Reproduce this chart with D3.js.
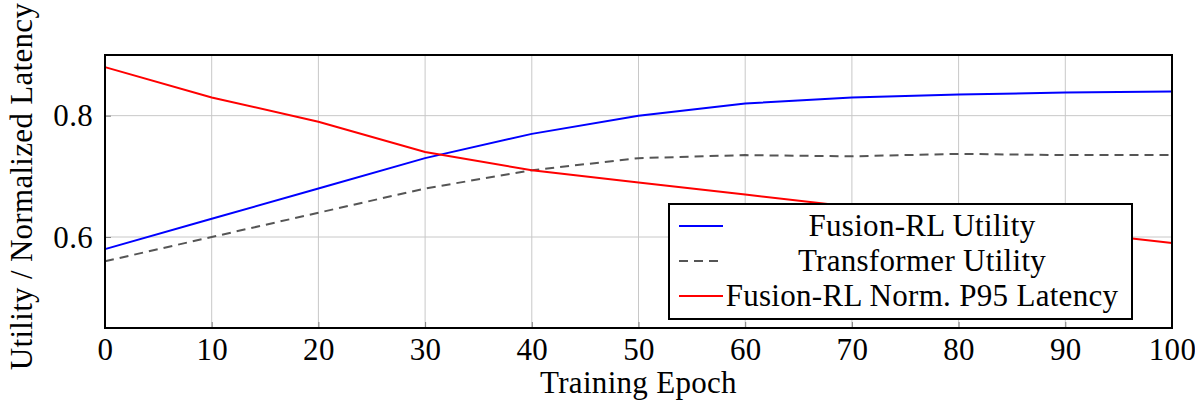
<!DOCTYPE html>
<html>
<head>
<meta charset="utf-8">
<script src="https://cdn.jsdelivr.net/npm/d3@7"></script>
<style>
  body { margin: 0; background: #fff; }
  text { font-family: "Liberation Serif", "DejaVu Serif", serif; fill: #000; letter-spacing: 0.3px; }
</style>
</head>
<body>
<div id="chart"></div>
<script>
// dados
const epochs = [0, 10, 20, 30, 40, 50, 60, 70, 80, 90, 100];
const fusionUtility = [0.58, 0.63, 0.68, 0.73, 0.77, 0.80, 0.82, 0.83, 0.835, 0.838, 0.84];
const transformerUtility = [0.56, 0.60, 0.64, 0.68, 0.71, 0.73, 0.735, 0.733, 0.737, 0.735, 0.735];
const fusionLatency = [0.88, 0.83, 0.79, 0.74, 0.71, 0.69, 0.67, 0.65, 0.63, 0.61, 0.59];
const xTicks = [0, 10, 20, 30, 40, 50, 60, 70, 80, 90, 100];
const yTicks = [0.6, 0.8];
const legendLabels = ["Fusion-RL Utility", "Transformer Utility", "Fusion-RL Norm. P95 Latency"];

const W = 1195, H = 405;
const margin = { top: 55, right: 23, bottom: 77, left: 105 };
const width = W - margin.left - margin.right;
const height = H - margin.top - margin.bottom;
const fontSize = "31px";

const svg = d3.select("#chart").append("svg")
  .attr("width", W).attr("height", H);
const g = svg.append("g").attr("transform", `translate(${margin.left},${margin.top})`);

const x = d3.scaleLinear().domain([0, 100]).range([0, width]);
const y = d3.scaleLinear().domain([0.45, 0.9]).range([height, 0]);

// grade
g.append("g").selectAll("line").data(xTicks).join("line")
  .attr("x1", d => x(d)).attr("x2", d => x(d))
  .attr("y1", 0).attr("y2", height)
  .attr("stroke", "#c8c8c8").attr("stroke-width", 1);
g.append("g").selectAll("line").data(yTicks).join("line")
  .attr("x1", 0).attr("x2", width)
  .attr("y1", d => y(d)).attr("y2", d => y(d))
  .attr("stroke", "#c8c8c8").attr("stroke-width", 1);

// eixos
const xAxis = g.append("g").attr("transform", `translate(0,${height})`)
  .call(d3.axisBottom(x).tickValues(xTicks).tickSize(-6).tickFormat(d3.format("d")));
const yAxis = g.append("g")
  .call(d3.axisLeft(y).tickValues(yTicks).tickSize(-6).tickPadding(12).tickFormat(d3.format(".1f")));
[xAxis, yAxis].forEach(a => {
  a.select(".domain").remove();
  a.selectAll(".tick line").attr("stroke", "#808080");
  a.selectAll(".tick text").style("font-size", fontSize).style("font-family", "'Liberation Serif', serif");
});
xAxis.selectAll(".tick text").attr("y", 32).attr("dy", null);
yAxis.selectAll(".tick text").attr("dy", "0.33em");

// linhas
const line = d3.line().x((d, i) => x(epochs[i])).y(d => y(d));
g.append("path").datum(transformerUtility).attr("d", line)
  .attr("fill", "none").attr("stroke", "#555").attr("stroke-width", 2).attr("stroke-dasharray", "9,6");
g.append("path").datum(fusionUtility).attr("d", line)
  .attr("fill", "none").attr("stroke", "#0000ff").attr("stroke-width", 2);
g.append("path").datum(fusionLatency).attr("d", line)
  .attr("fill", "none").attr("stroke", "#ff0000").attr("stroke-width", 2);

// moldura
g.append("rect").attr("width", width).attr("height", height)
  .attr("fill", "none").attr("stroke", "#000").attr("stroke-width", 2);

// legenda
const leg = g.append("g").attr("transform", `translate(${669 - margin.left},${204 - margin.top})`);
leg.append("rect").attr("width", 463).attr("height", 115)
  .attr("fill", "#fff").attr("stroke", "#000").attr("stroke-width", 2);
const styles = [
  { c: "#0000ff", dash: null },
  { c: "#555", dash: "9,6" },
  { c: "#ff0000", dash: null }
];
legendLabels.forEach((t, i) => {
  const cy = 22 + i * 35;
  leg.append("line").attr("x1", 10).attr("x2", 54).attr("y1", cy).attr("y2", cy)
    .attr("stroke", styles[i].c).attr("stroke-width", 2)
    .attr("stroke-dasharray", styles[i].dash);
  leg.append("text").attr("x", 253).attr("y", cy).attr("dy", "0.33em")
    .attr("text-anchor", "middle").style("font-size", fontSize).text(t);
});

// títulos
svg.append("text").attr("x", margin.left + width / 2).attr("y", 393)
  .attr("text-anchor", "middle").style("font-size", fontSize).text("Training Epoch");
svg.append("text").attr("transform", `translate(32,${margin.top + height / 2 - 5}) rotate(-90)`)
  .attr("text-anchor", "middle").style("font-size", fontSize).text("Utility / Normalized Latency");
</script>
</body>
</html>
